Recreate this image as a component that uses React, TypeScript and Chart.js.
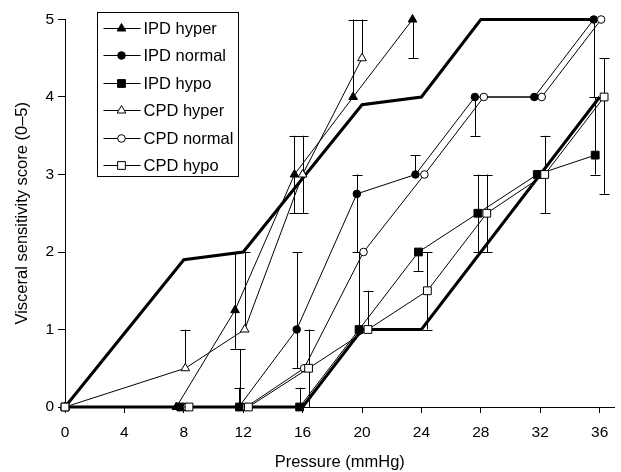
import React, { useEffect, useRef } from 'react';
import { Chart, registerables } from 'chart.js';

Chart.register(...registerables);

// ---- tick labels ----
const xTicks = [0, 4, 8, 12, 16, 20, 24, 28, 32, 36];
const yTicks = [0, 1, 2, 3, 4, 5];

// ---- series (x = pressure as plotted, slightly dodged; y = score) ----
const ipdHyperX = [0, 7.5, 11.45, 15.45, 19.4, 23.4];
const ipdHyperY = [0, 0, 1.25, 3, 4, 5];
const ipdHyperLo = [null, null, 0.75, 2.5, 4, 4.5];
const ipdHyperHi = [null, null, 2, 3.5, 5, 5];

const ipdNormalX = [0, 7.7, 11.7, 15.6, 19.65, 23.6, 27.6, 31.6, 35.6];
const ipdNormalY = [0, 0, 0, 1, 2.75, 3, 4, 4, 5];
const ipdNormalLo = [null, null, 0, 0.5, 2, 3, 3.5, null, 4];
const ipdNormalHi = [null, null, 0.25, 2, 3, 3.25, 4, null, 5];

const ipdHypoX = [0, 7.8, 11.75, 15.8, 19.8, 23.8, 27.8, 31.8, 35.7];
const ipdHypoY = [0, 0, 0, 0, 1, 2, 2.5, 3, 3.25];
const ipdHypoLo = [null, null, 0, 0, 1, 1.75, 2, null, 3];
const ipdHypoHi = [null, null, 0.75, 0.25, 2, 2, 3, null, 4];

const cpdHyperX = [0, 8.1, 12.1, 16.0, 20.0];
const cpdHyperY = [0, 0.5, 1, 3, 4.5];
const cpdHyperLo = [null, 0.5, 1, 2.5, 4.5];
const cpdHyperHi = [null, 1, 2, 3.5, 5];

const cpdNormalX = [0, 8.2, 12.2, 16.1, 20.1, 24.2, 28.2, 32.1, 36.1];
const cpdNormalY = [0, 0, 0, 0.5, 2, 3, 4, 4, 5];

const cpdHypoX = [0, 8.35, 12.35, 16.4, 20.4, 24.4, 28.4, 32.3, 36.3];
const cpdHypoY = [0, 0, 0, 0.5, 1, 1.5, 2.5, 3, 4];
const cpdHypoLo = [null, null, null, 0, 1, 1, 2, 2.5, 2.75];
const cpdHypoHi = [null, null, null, 1, 1.5, 2, 3, 3.5, 4.5];

// ---- thick reference lines ----
const upperX = [0, 8, 12, 20, 24, 28, 36];
const upperY = [0, 1.9, 2, 3.9, 4, 5, 5];
const lowerX = [0, 16, 20, 24, 36];
const lowerY = [0, 0, 1, 1, 4];

const FONT = "'Liberation Sans', Arial, Helvetica, sans-serif";

const pts = (xs: number[], ys: number[]) => xs.map((x, i) => ({ x, y: ys[i] }));

const errorBars = {
  id: 'errorBars',
  beforeDatasetsDraw(chart: any) {
    const { ctx } = chart;
    const xs = chart.scales.x;
    const ys = chart.scales.y;
    ctx.save();
    ctx.strokeStyle = '#000';
    ctx.lineWidth = 1;
    chart.data.datasets.forEach((ds: any) => {
      if (!ds.errLo) return;
      ds.data.forEach((p: any, i: number) => {
        const lo = ds.errLo[i];
        const hi = ds.errHi[i];
        if (lo == null || hi == null) return;
        const px = Math.round(xs.getPixelForValue(p.x)) + 0.5;
        ctx.beginPath();
        ctx.moveTo(px, ys.getPixelForValue(lo));
        ctx.lineTo(px, ys.getPixelForValue(hi));
        [lo, hi].forEach((v: number) => {
          if (v !== p.y) {
            const yy = Math.round(ys.getPixelForValue(v)) + 0.5;
            ctx.moveTo(px - 5, yy);
            ctx.lineTo(px + 5, yy);
          }
        });
        ctx.stroke();
      });
    });
    ctx.restore();
  },
};

function drawMarker(ctx: CanvasRenderingContext2D, style: string, r: number, filled: boolean, x: number, y: number) {
  ctx.beginPath();
  if (style === 'circle') {
    ctx.arc(x, y, r, 0, Math.PI * 2);
  } else if (style === 'rect') {
    const s = r * Math.SQRT1_2;
    ctx.rect(x - s, y - s, 2 * s, 2 * s);
  } else {
    const a = (2 * Math.PI) / 3;
    ctx.moveTo(x, y - r);
    ctx.lineTo(x + Math.sin(a) * r, y - Math.cos(a) * r);
    ctx.lineTo(x + Math.sin(2 * a) * r, y - Math.cos(2 * a) * r);
    ctx.closePath();
  }
  ctx.fillStyle = filled ? '#000' : '#fff';
  ctx.fill();
  ctx.strokeStyle = '#000';
  ctx.lineWidth = 1;
  ctx.stroke();
}

const legendBox = {
  id: 'legendBox',
  afterDraw(chart: any) {
    const { ctx, chartArea } = chart;
    const items = chart.data.datasets.filter((d: any) => d.inLegend);
    const left = Math.round(chartArea.left + 32) + 0.5;
    const top = Math.round(chartArea.top - 8) + 0.5;
    const w = 141;
    const h = 164;
    ctx.save();
    ctx.strokeStyle = '#000';
    ctx.lineWidth = 1;
    ctx.strokeRect(left, top, w, h);
    ctx.font = `16.5px ${FONT}`;
    ctx.textBaseline = 'middle';
    ctx.textAlign = 'left';
    items.forEach((d: any, i: number) => {
      const cy = Math.round(top + 15 + i * 27.5) + 0.5;
      ctx.beginPath();
      ctx.moveTo(left + 6, cy);
      ctx.lineTo(left + 43, cy);
      ctx.strokeStyle = '#000';
      ctx.lineWidth = 1;
      ctx.stroke();
      drawMarker(ctx, d.pointStyle, d.pointRadius, d.filled, left + 24, cy);
      ctx.fillStyle = '#000';
      ctx.fillText(d.label, left + 46, cy + 1);
    });
    ctx.restore();
  },
};

export default function App() {
  const ref = useRef<HTMLCanvasElement>(null);

  useEffect(() => {
    if (!ref.current) return;
    const series = (label: string, xs: number[], ys: number[], style: string, filled: boolean, radius: number, lo?: any[], hi?: any[], order = 1) => ({
      label,
      data: pts(xs, ys),
      showLine: true,
      borderColor: '#000',
      borderWidth: 1,
      pointStyle: style,
      pointRadius: radius,
      pointHoverRadius: radius,
      pointBorderWidth: 1,
      pointBorderColor: '#000',
      pointBackgroundColor: filled ? '#000' : '#fff',
      clip: false,
      errLo: lo,
      errHi: hi,
      inLegend: true,
      filled,
      order,
    });

    const chart = new Chart(ref.current, {
      type: 'scatter',
      data: {
        datasets: [
          series('IPD hyper', ipdHyperX, ipdHyperY, 'triangle', true, 5, ipdHyperLo, ipdHyperHi, 6),
          series('IPD normal', ipdNormalX, ipdNormalY, 'circle', true, 3.8, ipdNormalLo, ipdNormalHi, 5),
          series('IPD hypo', ipdHypoX, ipdHypoY, 'rect', true, 5.5, ipdHypoLo, ipdHypoHi, 4),
          series('CPD hyper', cpdHyperX, cpdHyperY, 'triangle', false, 5, cpdHyperLo, cpdHyperHi, 3),
          series('CPD normal', cpdNormalX, cpdNormalY, 'circle', false, 3.8, undefined, undefined, 2),
          series('CPD hypo', cpdHypoX, cpdHypoY, 'rect', false, 5.5, cpdHypoLo, cpdHypoHi, 1),
          {
            label: 'upper',
            data: pts(upperX, upperY),
            showLine: true,
            borderColor: '#000',
            borderWidth: 3,
            pointRadius: 0,
            clip: false,
            order: 10,
          } as any,
          {
            label: 'lower',
            data: pts(lowerX, lowerY),
            showLine: true,
            borderColor: '#000',
            borderWidth: 3,
            pointRadius: 0,
            clip: false,
            order: 10,
          } as any,
        ] as any,
      },
      options: {
        responsive: false,
        animation: false,
        devicePixelRatio: 1,
        layout: { padding: { top: 19.5, right: 1, left: 0, bottom: 0 } },
        plugins: {
          legend: { display: false },
          tooltip: { enabled: false },
        },
        scales: {
          x: {
            type: 'linear',
            min: 0,
            max: 37,
            afterBuildTicks: (s: any) => {
              s.ticks = xTicks.map((v) => ({ value: v }));
            },
            afterFit: (s: any) => {
              s.height = 65;
            },
            ticks: { color: '#000', font: { family: FONT, size: 15.5 }, padding: 10, maxRotation: 0, autoSkip: false },
            grid: { display: true, drawOnChartArea: false, drawTicks: true, tickLength: 6, color: '#000', lineWidth: 1 },
            border: { display: true, color: '#000', width: 1 },
            title: { display: true, text: 'Pressure (mmHg)', color: '#000', font: { family: FONT, size: 16.5 }, padding: { top: 4, bottom: 0 } },
          },
          y: {
            type: 'linear',
            min: 0,
            max: 5,
            afterBuildTicks: (s: any) => {
              s.ticks = yTicks.map((v) => ({ value: v }));
            },
            afterFit: (s: any) => {
              s.width = 65;
            },
            ticks: { color: '#000', font: { family: FONT, size: 15.5 }, padding: 4, autoSkip: false },
            grid: { display: true, drawOnChartArea: false, drawTicks: true, tickLength: 7, color: '#000', lineWidth: 1 },
            border: { display: true, color: '#000', width: 1 },
            title: { display: true, text: 'Visceral sensitivity score (0–5)', color: '#000', font: { family: FONT, size: 16.5 }, padding: { top: 13, bottom: 0 } },
          },
        },
      } as any,
      plugins: [errorBars, legendBox],
    });
    return () => chart.destroy();
  }, []);

  return (
    <div style={{ position: 'fixed', left: 0, top: 0, width: 621, height: 472, background: '#fff' }}>
      <canvas ref={ref} width={621} height={472} style={{ width: 621, height: 472, display: 'block' }} />
    </div>
  );
}
